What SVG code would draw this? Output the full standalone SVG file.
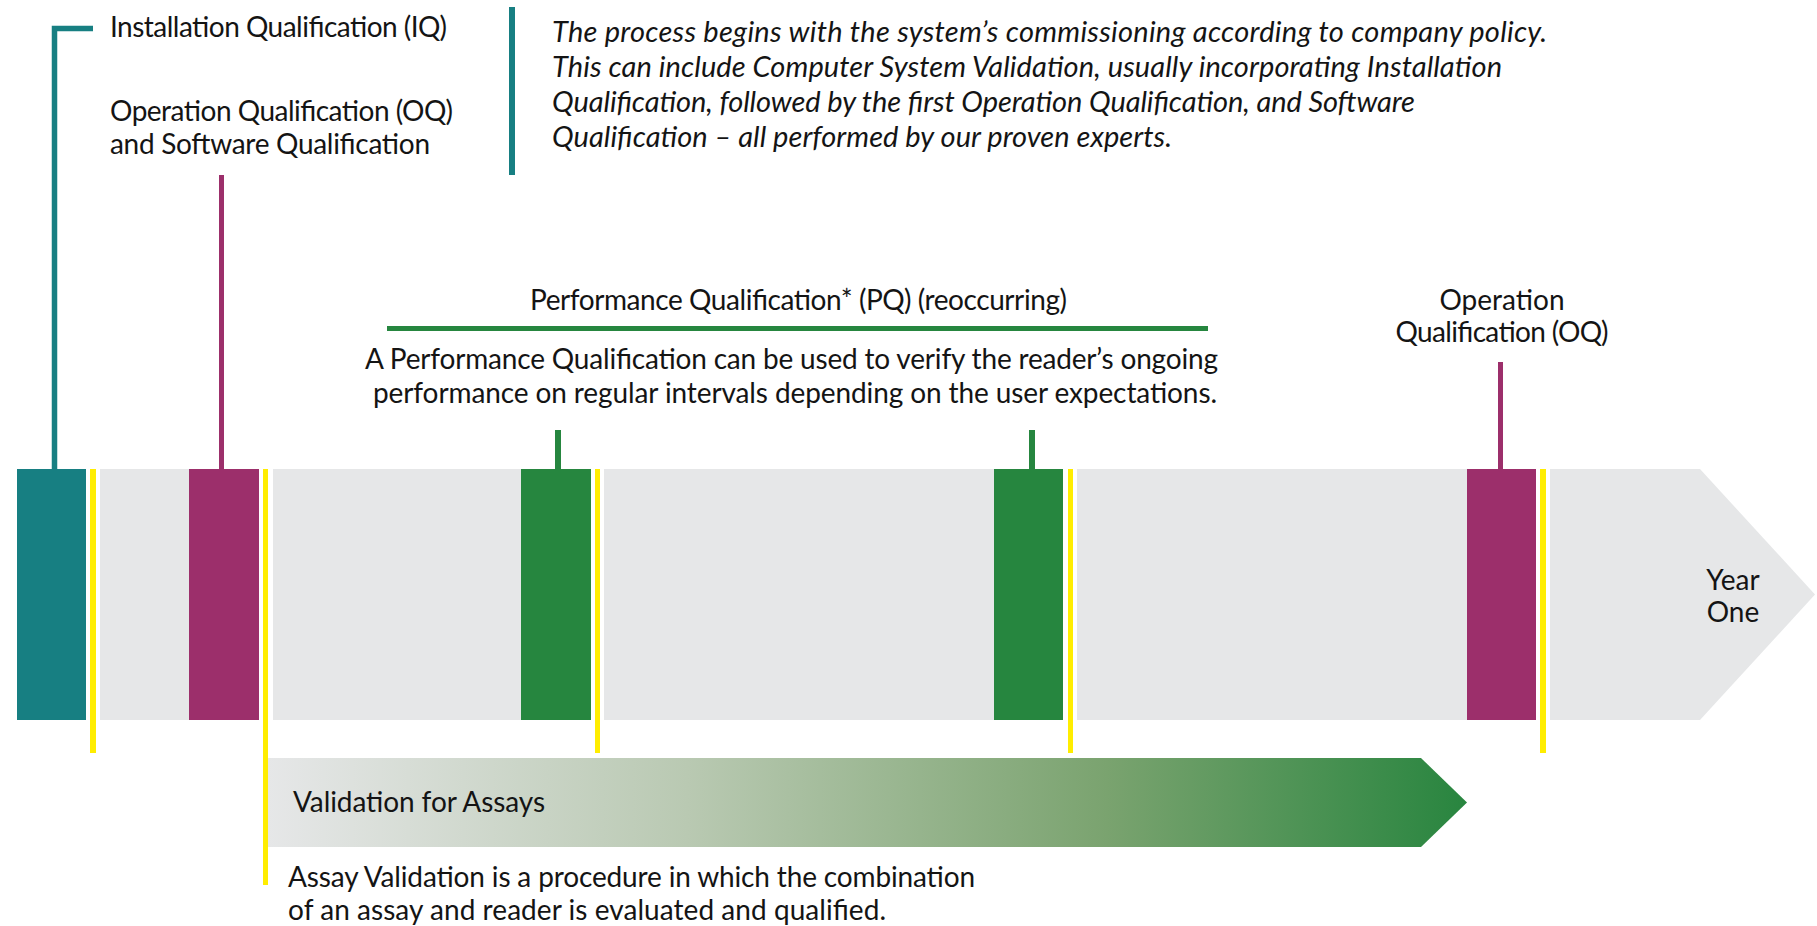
<svg xmlns="http://www.w3.org/2000/svg" width="1817" height="926" viewBox="0 0 1817 926">
<style>
text{font-family:Lato,"Liberation Sans",sans-serif;fill:#141414;font-size:28px}
.it{font-style:italic;font-size:29px}
.mid{text-anchor:middle}
.teal{fill:#177f82}
.mag{fill:#9c2f6b}
.grn{fill:#26863f}
.yel{fill:#ffed00}
.gap{fill:#ffffff}
</style>
<defs>
<linearGradient id="vg" x1="268" y1="0" x2="1467" y2="0" gradientUnits="userSpaceOnUse">
<stop offset="0" stop-color="#e6e7e8"/>
<stop offset="0.35" stop-color="#b9c9b2"/>
<stop offset="0.7" stop-color="#7aa36f"/>
<stop offset="1" stop-color="#28853f"/>
</linearGradient>
</defs>
<rect width="1817" height="926" fill="#ffffff"/>

<g id="timeline">
<polygon points="17,469 1700,469 1815,594.5 1700,720 17,720" fill="#e6e7e8"/>
<text x="1733" y="590" class="mid">Year</text>
<text x="1733" y="622" class="mid">One</text>
</g>

<g id="validation-arrow">
<polygon points="268,758 1421,758 1467,802.5 1421,847 268,847" fill="url(#vg)"/>
<text x="293" y="812" font-size="26" textLength="252">Validation for Assays</text>
<text x="288" y="887" font-size="26" textLength="687">Assay Validation is a procedure in which the combination</text>
<text x="288" y="920" font-size="26" textLength="598">of an assay and reader is evaluated and qualified.</text>
</g>

<g id="connectors">
<path d="M54.5,469 V28.5 H93" fill="none" stroke="#177f82" stroke-width="5.5"/>
<rect x="509" y="7" width="6" height="168" class="teal"/>
<rect x="219" y="175" width="5" height="294" class="mag"/>
<rect x="1498" y="362" width="5" height="107" class="mag"/>
<rect x="555" y="430" width="6" height="39" class="grn"/>
<rect x="1029" y="430" width="6" height="39" class="grn"/>
<rect x="387" y="326" width="821" height="5" class="grn"/>
</g>

<g id="iq">
<rect x="17" y="469" width="69" height="251" class="teal"/>
<rect x="86" y="469" width="14" height="251" class="gap"/>
<rect x="90" y="469" width="6" height="284" class="yel"/>
<text x="110" y="37" textLength="337">Installation Qualification (IQ)</text>
</g>

<g id="oq1">
<rect x="189" y="469" width="70" height="251" class="mag"/>
<rect x="259" y="469" width="14" height="251" class="gap"/>
<rect x="263" y="469" width="5" height="416" class="yel"/>
<text x="110" y="121" textLength="343">Operation Qualification (OQ)</text>
<text x="110" y="154" textLength="320">and Software Qualification</text>
</g>

<g id="commissioning">
<text x="552" y="42" class="it" textLength="995">The process begins with the system’s commissioning according to company policy.</text>
<text x="552" y="77" class="it" textLength="950">This can include Computer System Validation, usually incorporating Installation</text>
<text x="552" y="112" class="it" textLength="863">Qualification, followed by the first Operation Qualification, and Software</text>
<text x="552" y="147" class="it" textLength="620">Qualification – all performed by our proven experts.</text>
</g>

<g id="pq1">
<rect x="521" y="469" width="70" height="251" class="grn"/>
<rect x="591" y="469" width="13" height="251" class="gap"/>
<rect x="595" y="469" width="5" height="284" class="yel"/>
</g>

<g id="pq2">
<rect x="994" y="469" width="69" height="251" class="grn"/>
<rect x="1063" y="469" width="14" height="251" class="gap"/>
<rect x="1068" y="469" width="5" height="284" class="yel"/>
</g>

<g id="pq-label">
<text x="530" y="310" textLength="537">Performance Qualification* (PQ) (reoccurring)</text>
<text x="365" y="369" font-size="27" textLength="853">A Performance Qualification can be used to verify the reader’s ongoing</text>
<text x="373" y="403" font-size="27" textLength="844">performance on regular intervals depending on the user expectations.</text>
</g>

<g id="oq2">
<rect x="1467" y="469" width="69" height="251" class="mag"/>
<rect x="1536" y="469" width="14" height="251" class="gap"/>
<rect x="1540" y="469" width="6" height="284" class="yel"/>
<text x="1502" y="310" class="mid">Operation</text>
<text x="1502" y="342" class="mid" textLength="213">Qualification (OQ)</text>
</g>
</svg>
